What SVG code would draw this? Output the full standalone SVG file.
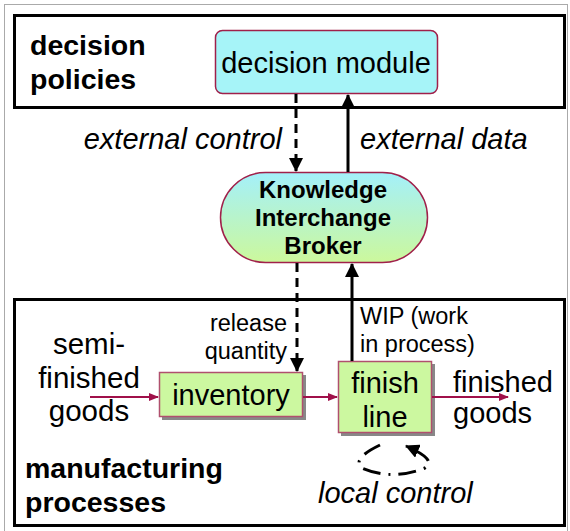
<svg xmlns="http://www.w3.org/2000/svg" width="570" height="531" viewBox="0 0 570 531">
<style>
text{font-family:"Liberation Sans",Arial,sans-serif;fill:#000}
.frame{fill:none;stroke:#000;stroke-width:3}
.box{fill:#ccf8a0;stroke:#b0506e;stroke-width:1.5}
.shadow{fill:#888}
.flow{stroke:#a0104a;stroke-width:2;fill:none;marker-end:url(#ar)}
.ctl{stroke:#000;stroke-width:3;fill:none;marker-end:url(#ab)}
.dash{stroke-dasharray:9,6}
.big{font-size:29px}
.bold{font-weight:bold;font-size:28.5px}
.it{font-style:italic;font-size:29px}
.sm{font-size:23.5px}
.kb{font-weight:bold;font-size:24px}
</style>
<defs>
<marker id="ar" markerWidth="10" markerHeight="8" refX="9" refY="4" orient="auto" markerUnits="userSpaceOnUse"><path d="M0,0 L10,4 L0,8 Z" fill="#a0104a"/></marker>
<marker id="ab" markerWidth="14" markerHeight="14" refX="13" refY="7" orient="auto" markerUnits="userSpaceOnUse"><path d="M0,0 L14,7 L0,14 Z" fill="#000"/></marker>
<linearGradient id="g" x1="0" y1="0" x2="0" y2="1"><stop offset="0" stop-color="#a4f0fa"/><stop offset="1" stop-color="#ccf89c"/></linearGradient>
</defs>
<rect width="570" height="531" fill="#fff"/>
<rect x="4.5" y="4.5" width="563" height="540" fill="none" stroke="#aaa" stroke-width="1"/>
<g id="decision-policies">
<rect class="frame" x="14.5" y="15.5" width="550" height="92"/>
<text class="bold" x="30" y="55">decision</text>
<text class="bold" x="30" y="89">policies</text>
</g>
<g id="manufacturing-processes">
<rect class="frame" x="14.5" y="299.5" width="550" height="226"/>
<text class="bold" x="25" y="478">manufacturing</text>
<text class="bold" x="25" y="512">processes</text>
</g>
<g id="decision-module">
<rect x="215.5" y="30.5" width="222" height="63" rx="7" fill="#a6f4f8" stroke="#a0204a" stroke-width="1.5"/>
<text class="big" x="326" y="73" text-anchor="middle">decision module</text>
</g>
<g id="broker">
<rect x="220.5" y="172.5" width="207" height="90" rx="45" fill="url(#g)" stroke="#a0204a" stroke-width="1.5"/>
<text class="kb" x="323" y="198" text-anchor="middle">Knowledge</text>
<text class="kb" x="323" y="226" text-anchor="middle">Interchange</text>
<text class="kb" x="323" y="254" text-anchor="middle">Broker</text>
</g>
<g id="inventory">
<rect class="shadow" x="162" y="375" width="144" height="45"/>
<rect class="box" x="159.5" y="372.5" width="143" height="44"/>
<text class="big" x="231" y="405" text-anchor="middle">inventory</text>
</g>
<g id="finish-line">
<rect class="shadow" x="341" y="364" width="94" height="72"/>
<rect class="box" x="338.5" y="361.5" width="93" height="71"/>
<text class="big" x="385" y="393" text-anchor="middle">finish</text>
<text class="big" x="385" y="427" text-anchor="middle">line</text>
</g>
<g id="labels">
<text x="89" y="354" text-anchor="middle" font-size="29.5">semi-</text>
<text x="89" y="388" text-anchor="middle" font-size="29.5">finished</text>
<text x="89" y="421" text-anchor="middle" font-size="29.5">goods</text>
<text class="big" x="453" y="392">finished</text>
<text class="big" x="453" y="423">goods</text>
<text class="it" x="282" y="149" text-anchor="end">external control</text>
<text class="it" x="360" y="149">external data</text>
<text class="sm" x="287" y="331" text-anchor="end">release</text>
<text class="sm" x="287" y="359" text-anchor="end">quantity</text>
<text class="sm" x="360" y="324">WIP (work</text>
<text class="sm" x="360" y="352">in process)</text>
<text class="it" x="318" y="503">local control</text>
</g>
<g id="connectors">
<path class="ctl dash" d="M296,94 V171"/>
<path class="ctl" d="M348,172 V95"/>
<path class="ctl dash" d="M297,263 V371"/>
<path class="ctl" d="M352,361 V264"/>
<path class="flow" d="M90,397 H158"/>
<path class="flow" d="M303,397 H337"/>
<path class="flow" d="M432,397 H508"/>
<path d="M380,445 Q351,459 362,468 Q392,481 425,468 Q438,460 406,446" fill="none" stroke="#000" stroke-width="3" stroke-dasharray="18,8,2,8" marker-end="url(#ab)"/>
</g>
</svg>
